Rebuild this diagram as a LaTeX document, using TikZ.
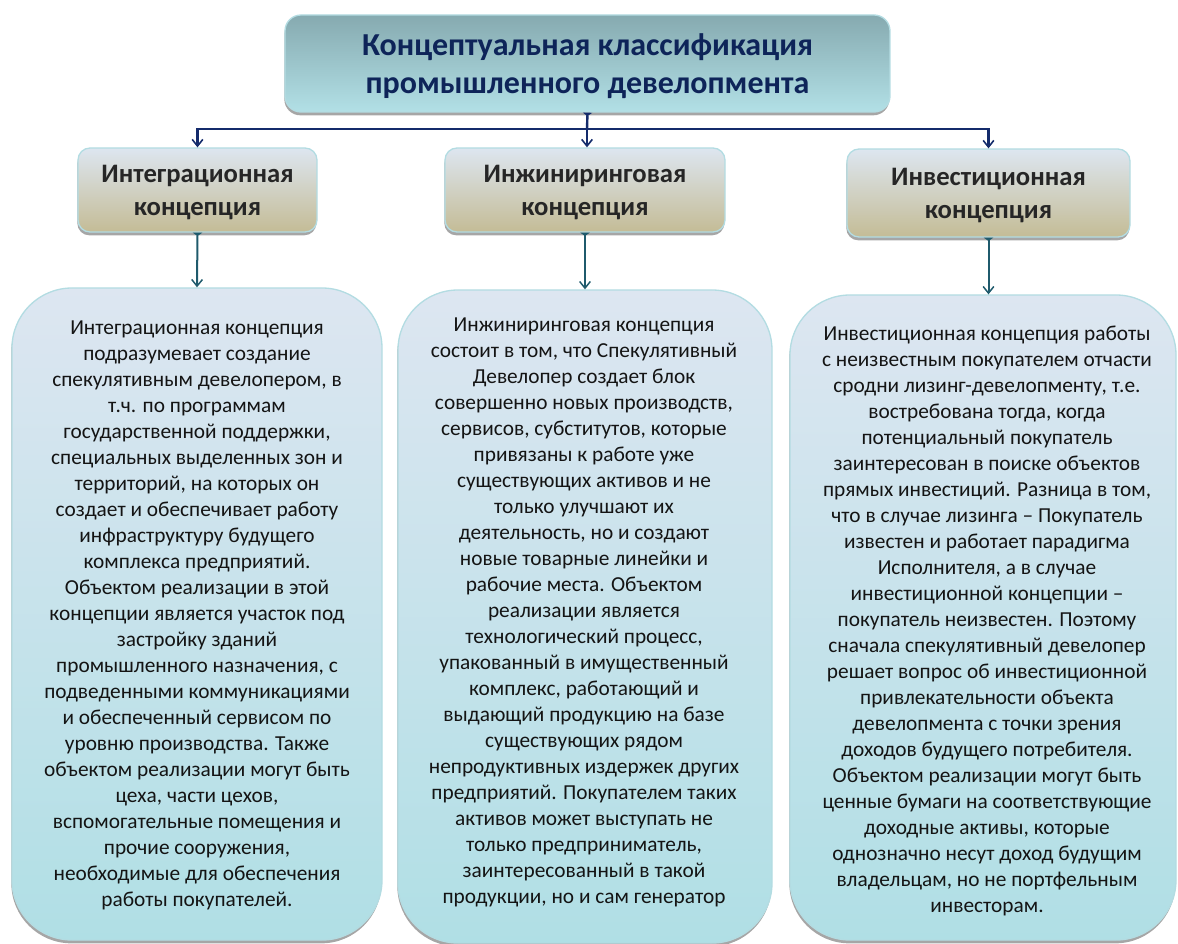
\documentclass[tikz,border=0pt]{standalone}
\usepackage{fontspec}
\setmainfont{Carlito}
\usetikzlibrary{arrows.meta,shadows}

\definecolor{navyline}{HTML}{142B6B}
\definecolor{navytext}{HTML}{0E2459}
\definecolor{tealline}{HTML}{1F5A6C}
\definecolor{boxedge}{HTML}{B3DCE2}
\definecolor{headtext}{HTML}{262626}
\definecolor{bodytext}{HTML}{141414}

\begin{document}
\begin{tikzpicture}[x=0.75pt,y=-0.75pt,
  softshadow/.style={drop shadow={shadow xshift=-0.5pt,shadow yshift=-2.5pt,fill=black,opacity=0.35}},
  titlebox/.style={draw=boxedge,line width=1pt,rounded corners=12pt,softshadow,
    top color={rgb,255:red,134;green,170;blue,176},bottom color={rgb,255:red,178;green,224;blue,230}},
  titletext/.style={text=navytext,align=center,inner sep=0pt,
    font=\fontsize{24pt}{28.5pt}\selectfont\bfseries},
  headbox/.style={draw=boxedge,line width=1pt,rounded corners=9pt,softshadow,
    top color={rgb,255:red,221;green,230;blue,240},middle color={rgb,255:red,214;green,216;blue,210},
    bottom color={rgb,255:red,196;green,188;blue,150}},
  headtext/.style={text=headtext,align=center,inner sep=0pt,
    font=\fontsize{20pt}{24.75pt}\selectfont\bfseries},
  bodybox/.style={draw=boxedge,line width=1pt,rounded corners=45pt,softshadow,
    top color={rgb,255:red,221;green,230;blue,241},bottom color={rgb,255:red,176;green,223;blue,229}},
  bodytext/.style={text=bodytext,align=center,inner sep=0pt,
    font=\fontsize{16pt}{19.5pt}\selectfont},
  navyarrow/.style={draw=navyline,line width=1.8pt,
    -{Straight Barb[length=5pt,width=8pt,line width=1.2pt]}},
  tealarrow/.style={draw=tealline,line width=1.5pt,
    {Triangle[reversed,length=2.5pt,width=7pt]}-{Straight Barb[length=5pt,width=8pt,line width=1.1pt]}},
  stemline/.style={draw=navyline,line width=1.8pt,{Triangle[reversed,length=2.5pt,width=7pt]}-}
]
\useasboundingbox (0,0) rectangle (1178,944);

% title
\node[titlebox,minimum width=605*0.75pt,minimum height=97*0.75pt] (title) at (587.5,63.5) {};
\node[titletext] (titlelabel) at (587.5,66.5)
  {Концептуальная классификация\\промышленного девелопмента};

% concept headers
\node[headbox,minimum width=239*0.75pt,minimum height=84*0.75pt] (h1) at (197.5,190) {};
\node[headbox,minimum width=280*0.75pt,minimum height=84*0.75pt] (h2) at (585,190) {};
\node[headbox,minimum width=283*0.75pt,minimum height=88*0.75pt] (h3) at (988.5,193) {};
\node[headtext] (h1label) at (197.5,193) {Интеграционная\\концепция};
\node[headtext] (h2label) at (585,193) {Инжиниринговая\\концепция};
\node[headtext] (h3label) at (988.5,196) {Инвестиционная\\концепция};

% description boxes
\node[bodybox,minimum width=370*0.75pt,minimum height=652*0.75pt] (c1) at (197,614) {};
\node[bodybox,minimum width=374*0.75pt,minimum height=653*0.75pt] (c2) at (585,616.5) {};
\node[bodybox,minimum width=386*0.75pt,minimum height=645*0.75pt] (c3) at (983,617.5) {};

\node[bodytext] (c1text) at (197,615.5)
  {Интеграционная концепция\\
   подразумевает создание\\
   спекулятивным девелопером, в\\
   т.ч. по программам\\
   государственной поддержки,\\
   специальных выделенных зон и\\
   территорий, на которых он\\
   создает и обеспечивает работу\\
   инфраструктуру будущего\\
   комплекса предприятий.\\
   Объектом реализации в этой\\
   концепции является участок под\\
   застройку зданий\\
   промышленного назначения, с\\
   подведенными коммуникациями\\
   и обеспеченный сервисом по\\
   уровню производства. Также\\
   объектом реализации могут быть\\
   цеха, части цехов,\\
   вспомогательные помещения и\\
   прочие сооружения,\\
   необходимые для обеспечения\\
   работы покупателей.};

\node[bodytext] (c2text) at (584,612)
  {Инжиниринговая концепция\\
   состоит в том, что Спекулятивный\\
   Девелопер создает блок\\
   совершенно новых производств,\\
   сервисов, субститутов, которые\\
   привязаны к работе уже\\
   существующих активов и не\\
   только улучшают их\\
   деятельность, но и создают\\
   новые товарные линейки и\\
   рабочие места. Объектом\\
   реализации является\\
   технологический процесс,\\
   упакованный в имущественный\\
   комплекс, работающий и\\
   выдающий продукцию на базе\\
   существующих рядом\\
   непродуктивных издержек других\\
   предприятий. Покупателем таких\\
   активов может выступать не\\
   только предприниматель,\\
   заинтересованный в такой\\
   продукции, но и сам генератор};

\node[bodytext] (c3text) at (987,621)
  {Инвестиционная концепция работы\\
   с неизвестным покупателем отчасти\\
   сродни лизинг-девелопменту, т.е.\\
   востребована тогда, когда\\
   потенциальный покупатель\\
   заинтересован в поиске объектов\\
   прямых инвестиций. Разница в том,\\
   что в случае лизинга – Покупатель\\
   известен и работает парадигма\\
   Исполнителя, а в случае\\
   инвестиционной концепции –\\
   покупатель неизвестен. Поэтому\\
   сначала спекулятивный девелопер\\
   решает вопрос об инвестиционной\\
   привлекательности объекта\\
   девелопмента с точки зрения\\
   доходов будущего потребителя.\\
   Объектом реализации могут быть\\
   ценные бумаги на соответствующие\\
   доходные активы, которые\\
   однозначно несут доход будущим\\
   владельцам, но не портфельным\\
   инвесторам.};

% connectors
\coordinate (j) at (587,129);
\draw[stemline] (title.south) -- (j);
\draw[navyarrow] (j) -| (h1.north);
\draw[navyarrow] (j) -- (j |- h2.north);
\draw[navyarrow] (j) -| (h3.north);

\draw[tealarrow] (h1.south) -- (c1.north);
\draw[tealarrow] (h2.south) -- (c2.north);
\draw[tealarrow] (h3.south) -- (h3.south |- c3.north);
\end{tikzpicture}
\end{document}
